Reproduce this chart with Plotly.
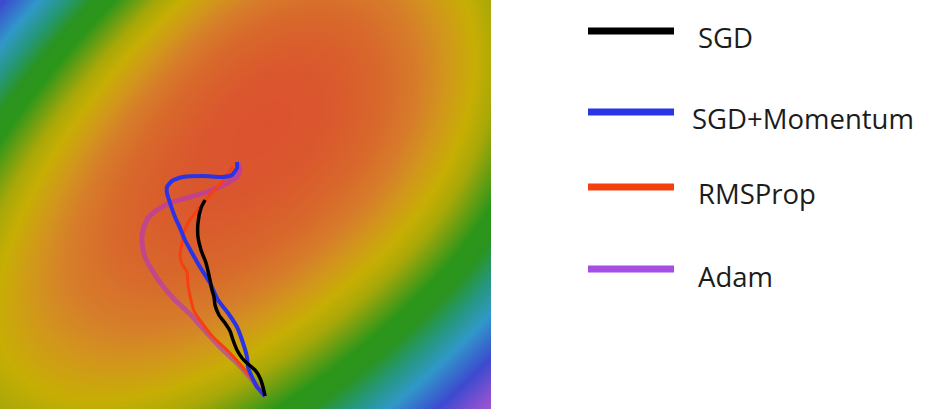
import numpy as np
import plotly.graph_objects as go

# ---------------- data ----------------
# optimizer trajectories, in image-pixel coordinates of the loss surface (y grows downward)
sgd_x = [205, 201, 198, 198, 201, 206, 210, 212, 214, 215, 219, 225, 230, 233, 237, 242, 248, 255, 260, 263, 265]
sgd_y = [200, 208, 223, 237, 250, 263, 280, 290, 297, 305, 315, 323, 331, 340, 350, 358, 364, 370, 378, 387, 396]

mom_x = [237, 237, 232, 223, 203, 183, 172, 167, 167, 170, 175, 180, 185, 192, 200, 210, 218, 228, 237, 243, 247, 248, 252, 257, 265]
mom_y = [162, 168, 175, 177, 176, 177, 181, 187, 193, 203, 217, 228, 240, 253, 267, 283, 300, 313, 327, 343, 357, 367, 377, 387, 396]

rms_x = [233, 228, 220, 211, 203, 195, 188, 184, 182, 180, 182, 187, 188, 191, 194, 202, 213, 227, 240, 253, 265]
rms_y = [167, 173, 184, 194, 203, 213, 223, 232, 243, 255, 264, 272, 285, 300, 311, 323, 337, 350, 364, 380, 396]

adam_x = [238, 240, 237, 227, 210, 190, 170, 157, 148, 143, 142, 145, 152, 162, 175, 190, 207, 223, 240, 253, 265]
adam_y = [163, 170, 177, 183, 191, 197, 203, 210, 218, 230, 243, 257, 270, 285, 300, 314, 333, 350, 366, 381, 396]

names = ["SGD", "SGD+Momentum", "RMSProp", "Adam"]
colors = ["#000000", "#2b33e6", "#f4400e", "#a64de4"]
path_colors = ["#000000", "#2b33e6", "#f8400e", "rgba(178,52,200,0.6)"]

# loss-surface bowl parameters (pixel units): centre, and half-widths on each side
bowl_cx, bowl_cy = 265.0, 125.0
minor_neg, minor_pos = 205.0, 240.0   # toward top-left / bottom-right
major_neg, major_pos = 485.0, 334.0   # toward bottom-left / top-right

# ---------------- figure ----------------
W, H = 926, 409
IMG_W = 491

gx = np.linspace(0, IMG_W, 246)
gy = np.linspace(0, H, 205)
X, Y = np.meshgrid(gx, gy)
U = ((X - bowl_cx) + (Y - bowl_cy)) / np.sqrt(2)
V = ((X - bowl_cx) - (Y - bowl_cy)) / np.sqrt(2)
A = np.where(U < 0, minor_neg, minor_pos)
B = np.where(V < 0, major_neg, major_pos)
Z = np.sqrt((U / A) ** 2 + (V / B) ** 2)

ZMAX = 1.7
stops = [
    (0.00, "#dc5230"),
    (0.22, "#da582d"),
    (0.40, "#d8682b"),
    (0.53, "#d67e2a"),
    (0.62, "#d2961c"),
    (0.72, "#c7ae04"),
    (0.80, "#a8a808"),
    (0.86, "#78a010"),
    (0.95, "#2c961a"),
    (1.03, "#2a9420"),
    (1.12, "#25977a"),
    (1.22, "#3098c8"),
    (1.35, "#3c4ad0"),
    (1.46, "#8a52d0"),
    (1.56, "#b456d0"),
    (1.70, "#c060d0"),
]
cscale = [[s / ZMAX, c] for s, c in stops]

fig = go.Figure()
fig.add_trace(go.Heatmap(x=gx, y=gy, z=Z, zmin=0, zmax=ZMAX, colorscale=cscale,
                         zsmooth="best", showscale=False, hoverinfo="skip"))

paths = [(sgd_x, sgd_y, 3.5), (mom_x, mom_y, 4), (rms_x, rms_y, 3), (adam_x, adam_y, 5)]
order = [3, 2, 1, 0]
for i in order:
    px, py, w = paths[i]
    fig.add_trace(go.Scatter(x=px, y=py, mode="lines",
                             line=dict(color=path_colors[i], width=w, shape="spline", smoothing=0.6),
                             showlegend=False, hoverinfo="skip"))

# legend drawn on its own pixel-scaled axes
leg_line_y = [31, 112, 187, 269]
leg_text_y = [37, 118, 193, 276]
leg_text_x = [696, 690, 696, 696]
for i, n in enumerate(names):
    fig.add_trace(go.Scatter(x=[588, 674], y=[leg_line_y[i]] * 2, mode="lines",
                             line=dict(color=colors[i], width=7),
                             xaxis="x2", yaxis="y2", showlegend=False, hoverinfo="skip"))
    fig.add_annotation(x=leg_text_x[i], y=leg_text_y[i], xref="x2", yref="y2",
                       text=n, showarrow=False, xanchor="left", yanchor="middle",
                       font=dict(family="Open Sans", size=27.5, color="#1c1c1c"))

fig.update_layout(
    width=W, height=H, margin=dict(l=0, r=0, t=0, b=0),
    paper_bgcolor="white", plot_bgcolor="white",
    xaxis=dict(domain=[0, IMG_W / W], range=[0, IMG_W], visible=False, fixedrange=True),
    yaxis=dict(domain=[0, 1], range=[H, 0], visible=False, fixedrange=True),
    xaxis2=dict(domain=[IMG_W / W, 1], range=[IMG_W, W], visible=False, anchor="y2"),
    yaxis2=dict(domain=[0, 1], range=[H, 0], visible=False, anchor="x2"),
)

fig.write_html("out.html", config={"displayModeBar": False},
               post_script="document.body.style.margin='0';document.body.style.padding='0';document.body.style.overflow='hidden';")
